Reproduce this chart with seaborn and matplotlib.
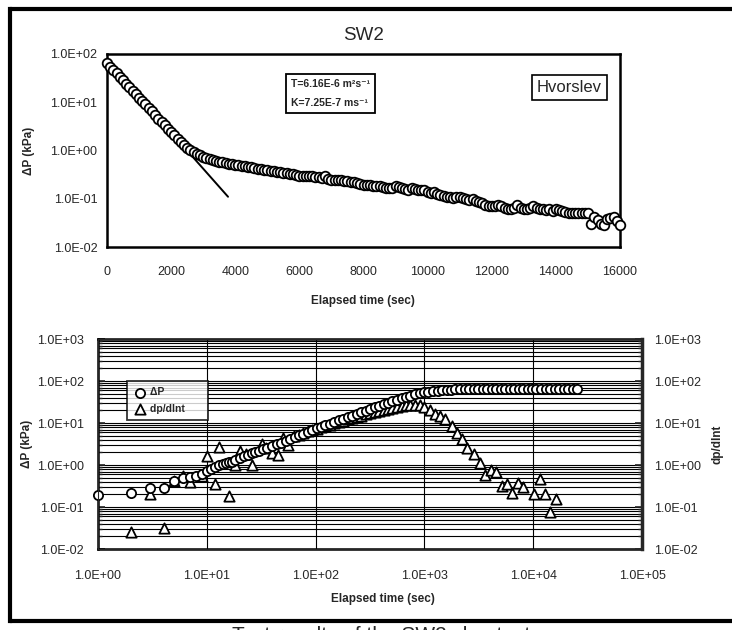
import numpy as np
import pandas as pd
import matplotlib
matplotlib.use("Agg")
import matplotlib.pyplot as plt
import seaborn as sns
from matplotlib.ticker import LogLocator, NullFormatter, FuncFormatter, MultipleLocator
from matplotlib.lines import Line2D

# ---------------- data ----------------
up_time = [0, 100, 200, 300, 400, 500, 600, 700, 800, 900, 1000,
           1100, 1200, 1300, 1400, 1500, 1600, 1700, 1800, 1900, 2000,
           2100, 2200, 2300, 2400, 2500, 2600, 2700, 2800, 2900, 3000,
           3100, 3200, 3300, 3400, 3500, 3600, 3700, 3800, 3900, 4000,
           4100, 4200, 4300, 4400, 4500, 4600, 4700, 4800, 4900, 5000,
           5100, 5200, 5300, 5400, 5500, 5600, 5700, 5800, 5900, 6000,
           6100, 6200, 6300, 6400, 6500, 6600, 6700, 6800, 6900, 7000,
           7100, 7200, 7300, 7400, 7500, 7600, 7700, 7800, 7900, 8000,
           8100, 8200, 8300, 8400, 8500, 8600, 8700, 8800, 8900, 9000,
           9100, 9200, 9300, 9400, 9500, 9600, 9700, 9800, 9900, 10000,
           10100, 10200, 10300, 10400, 10500, 10600, 10700, 10800, 10900, 11000,
           11100, 11200, 11300, 11400, 11500, 11600, 11700, 11800, 11900, 12000,
           12100, 12200, 12300, 12400, 12500, 12600, 12700, 12800, 12900, 13000,
           13100, 13200, 13300, 13400, 13500, 13600, 13700, 13800, 13900, 14000,
           14100, 14200, 14300, 14400, 14500, 14600, 14700, 14800, 14900, 15000,
           15100, 15200, 15300, 15400, 15500, 15600, 15700, 15800, 15900, 16000]
up_dp = [65, 55, 47, 40, 34, 28.5, 24, 20.5, 17.5, 14.8, 12.5,
         10.6, 9.0, 7.6, 6.5, 5.5, 4.6, 3.9, 3.3, 2.8, 2.4,
         2.05, 1.75, 1.5, 1.3, 1.15, 1.02, 0.93, 0.85, 0.79, 0.74,
         0.70, 0.67, 0.64, 0.61, 0.59, 0.57, 0.55, 0.53, 0.52, 0.50,
         0.49, 0.48, 0.47, 0.46, 0.45, 0.43, 0.42, 0.41, 0.40, 0.39,
         0.38, 0.37, 0.36, 0.35, 0.345, 0.34, 0.33, 0.32, 0.31, 0.30,
         0.30, 0.295, 0.29, 0.29, 0.28, 0.28, 0.27, 0.29, 0.26, 0.25,
         0.25, 0.245, 0.24, 0.235, 0.23, 0.225, 0.22, 0.21, 0.20, 0.195,
         0.19, 0.19, 0.185, 0.18, 0.18, 0.175, 0.17, 0.17, 0.165, 0.185,
         0.175, 0.165, 0.16, 0.155, 0.17, 0.16, 0.155, 0.15, 0.15, 0.14,
         0.13, 0.14, 0.125, 0.12, 0.115, 0.11, 0.11, 0.105, 0.11, 0.11,
         0.105, 0.10, 0.095, 0.10, 0.09, 0.085, 0.08, 0.075, 0.072, 0.07,
         0.07, 0.075, 0.07, 0.065, 0.06, 0.06, 0.065, 0.075, 0.065, 0.06,
         0.06, 0.065, 0.07, 0.065, 0.06, 0.06, 0.058, 0.06, 0.055, 0.06,
         0.058, 0.055, 0.052, 0.05, 0.05, 0.05, 0.05, 0.05, 0.05, 0.05,
         0.03, 0.042, 0.036, 0.03, 0.028, 0.038, 0.04, 0.042, 0.035, 0.028]
fit_time = [0, 3775]
fit_dp = [75, 0.11]

lo_time = [1, 2, 3, 4, 5, 6, 7, 8, 9, 10, 11, 12, 13, 14, 15, 16, 17, 18, 20, 22, 24, 26, 28, 30,
           33, 36, 40, 44, 48, 53, 58, 64, 70, 77, 85, 93, 102, 112, 123, 135, 148, 163, 179, 197,
           217, 238, 262, 288, 317, 348, 383, 421, 463, 509, 560, 616, 678, 745, 820, 902, 992,
           1090, 1200, 1320, 1450, 1600, 1760, 1930, 2130, 2340, 2570, 2830, 3110, 3420, 3770,
           4140, 4560, 5010, 5510, 6070, 6670, 7340, 8070, 8880, 9770, 10700, 11800, 13000,
           14300, 15700, 17300, 19000, 20900, 23000, 25300]
lo_dp = [0.19, 0.21, 0.29, 0.29, 0.42, 0.48, 0.52, 0.56, 0.62, 0.72, 0.8, 0.88, 1.0, 1.05, 1.1,
         1.15, 1.2, 1.3, 1.45, 1.6, 1.75, 1.9, 2.0, 2.2, 2.4, 2.6, 2.85, 3.1, 3.4, 3.8, 4.2, 4.6,
         5.1, 5.6, 6.2, 6.8, 7.4, 8.0, 8.8, 9.6, 10.5, 11.5, 12.5, 13.6, 15, 16.4, 18, 19.6, 21.5,
         23.5, 25.5, 28, 30.5, 33, 36, 39, 42, 45, 48, 51, 53.5, 55.5, 57.5, 59, 60.5, 61.5, 62.5,
         63, 63.5, 64, 64, 64, 64.5, 64.5, 64.5, 65, 65, 65, 65, 65, 65, 65, 65, 65, 65, 65, 65,
         65, 65, 65, 65, 65, 65, 65, 65]
der_time = [2, 3, 4, 5, 6, 7, 9, 10, 12, 13, 16, 18, 20, 23, 26, 32, 35, 40, 45, 50, 56,
            63, 70, 77, 85, 93, 102, 112, 123, 135, 148, 163, 179, 197, 217, 238, 262, 288, 317,
            348, 383, 421, 463, 509, 560, 616, 678, 745, 820, 902,
            1000, 1120, 1260, 1400, 1550, 1800, 2000, 2230, 2470, 2830, 3220, 3600, 4100, 4560,
            5150, 5740, 6400, 7200, 8100, 10100, 11500, 12900, 14400, 16200]
der_val = [0.026, 0.2, 0.032, 0.42, 0.55, 0.4, 0.55, 1.6, 0.35, 2.7, 0.18, 1.0, 2.2, 1.8, 1.0,
           3.2, 2.6, 1.9, 1.7, 4.5, 3.0,
           5.0, 5.3, 5.8, 6.3, 6.9, 7.3, 7.9, 8.5, 9.2, 9.9, 10.6, 11.4, 12.2, 13.1, 14, 15, 16,
           17, 18.2, 19.5, 20.8, 22, 23.3, 24.5, 25.5, 26.5, 27, 27, 26.5,
           24, 20, 16.6, 14.5, 12.6, 8.5, 5.9, 4.2, 2.6, 1.8, 1.1, 0.59, 0.76, 0.7,
           0.31, 0.36, 0.21, 0.38, 0.3, 0.2, 0.47, 0.2, 0.077, 0.155]

up_df = pd.DataFrame({"t": up_time, "dp": up_dp})
fit_df = pd.DataFrame({"t": fit_time, "dp": fit_dp})
lo_df = pd.DataFrame({"t": lo_time, "dp": lo_dp})
der_df = pd.DataFrame({"t": der_time, "v": der_val})

# ---------------- style ----------------
sns.set_style("white")
FAM = ['Liberation Sans', 'DejaVu Sans']
plt.rcParams['font.family'] = FAM
plt.rcParams['xtick.direction'] = 'in'
plt.rcParams['ytick.direction'] = 'in'

W, H = 732, 630
fig = plt.figure(figsize=(W / 100, H / 100), dpi=100)


def box(l, t, r, b):
    return [l / W, 1 - b / H, (r - l) / W, (b - t) / H]


sci = FuncFormatter(lambda v, p: f"{v:.1E}")
TICK_FS = 9

# ---------------- upper panel ----------------
ax1 = fig.add_axes(box(107, 54, 620, 247))
sns.lineplot(data=fit_df, x="t", y="dp", ax=ax1, color="black", lw=1.4, zorder=2)
sns.scatterplot(data=up_df, x="t", y="dp", ax=ax1, marker="o", s=48,
                facecolor="white", edgecolor="black", linewidth=1.3, zorder=3, clip_on=False)
ax1.set_yscale("log")
ax1.set_xlim(0, 16000)
ax1.set_ylim(0.01, 100)
ax1.xaxis.set_major_locator(MultipleLocator(2000))
ax1.xaxis.set_minor_locator(MultipleLocator(1000))
ax1.yaxis.set_major_locator(LogLocator(base=10, numticks=10))
ax1.yaxis.set_minor_locator(LogLocator(base=10, subs=np.arange(2, 10), numticks=20))
ax1.yaxis.set_minor_formatter(NullFormatter())
ax1.yaxis.set_major_formatter(sci)
ax1.tick_params(axis='x', which='major', length=5, width=1.2, pad=14, labelsize=TICK_FS)
ax1.tick_params(axis='x', which='minor', length=3, width=1.0)
ax1.tick_params(axis='y', which='major', length=5, width=1.2, pad=7, labelsize=TICK_FS)
ax1.tick_params(axis='y', which='minor', length=3, width=1.0)
for s in ax1.spines.values():
    s.set_linewidth(1.8)
    s.set_color("black")
ax1.set_xlabel("Elapsed time (sec)", fontsize=8.5, fontweight="bold")
ax1.xaxis.set_label_coords((363 - 107) / 513, -(295 - 247) / 193)
ax1.set_ylabel("ΔP (kPa)", fontsize=8.5, fontweight="bold")
ax1.yaxis.set_label_coords((35 - 107) / 513, 0.5)
ax1.set_title("SW2", fontsize=13.5, pad=10)
ax1.text((291 - 107) / 513, (247 - 93.5) / 193, "T=6.16E-6 m²s⁻¹\nK=7.25E-7 ms⁻¹",
         transform=ax1.transAxes, fontsize=7.5, fontweight="bold", va="center", ha="left",
         linespacing=2.1, family=FAM,
         bbox=dict(boxstyle="square,pad=0.45", fc="white", ec="black", lw=1.3))
ax1.text((602 - 107) / 513, (247 - 87.5) / 193, "Hvorslev", transform=ax1.transAxes,
         fontsize=12, va="center", ha="right",
         bbox=dict(boxstyle="square,pad=0.3", fc="white", ec="black", lw=1.2))

# ---------------- lower panel ----------------
ax2 = fig.add_axes(box(98, 339, 642, 549))
sns.scatterplot(data=lo_df, x="t", y="dp", ax=ax2, marker="o", s=44,
                facecolor="white", edgecolor="black", linewidth=1.3, zorder=4,
                label="ΔP", clip_on=False)
sns.scatterplot(data=der_df, x="t", y="v", ax=ax2, marker="^", s=55,
                facecolor="white", edgecolor="black", linewidth=1.3, zorder=3,
                label="dp/dlnt", clip_on=False)
ax2.set_xscale("log")
ax2.set_yscale("log")
ax2.set_xlim(1, 1e5)
ax2.set_ylim(0.01, 1000)
for axis in (ax2.xaxis, ax2.yaxis):
    axis.set_major_locator(LogLocator(base=10, numticks=10))
    axis.set_minor_locator(LogLocator(base=10, subs=np.arange(2, 10), numticks=40))
    axis.set_minor_formatter(NullFormatter())
    axis.set_major_formatter(sci)
ax2.grid(which="both", axis="y", color="black", lw=0.8)
ax2.grid(which="major", axis="x", color="black", lw=0.8)
ax2.tick_params(axis='x', which='major', length=5, width=1.2, pad=15, labelsize=TICK_FS)
ax2.tick_params(axis='x', which='minor', length=4, width=1.0)
ax2.tick_params(axis='y', which='major', length=5, width=1.2, pad=10, labelsize=TICK_FS)
ax2.tick_params(axis='y', which='minor', length=3, width=1.0)
for s in ax2.spines.values():
    s.set_linewidth(1.8)
    s.set_color("black")
ax2.set_xlabel("Elapsed time (sec)", fontsize=8.5, fontweight="bold")
ax2.xaxis.set_label_coords((383 - 98) / 544, -(593 - 549) / 210)
ax2.set_ylabel("ΔP (kPa)", fontsize=8.5, fontweight="bold")
ax2.yaxis.set_label_coords((33 - 98) / 544, 0.5)
handles, labels = ax2.get_legend_handles_labels()
leg = ax2.legend(handles, [labels[0] + "          ", labels[1] + "      "],
                 loc="upper left", bbox_to_anchor=((127 - 98) / 544, (549 - 381) / 210),
                 frameon=True, fancybox=False,
                 prop=dict(weight="bold", size=7.5, family=FAM), handletextpad=0.3,
                 borderpad=0.6, labelspacing=0.6, handlelength=1.3, borderaxespad=0)
leg.get_frame().set_edgecolor("black")
leg.get_frame().set_linewidth(1.3)

ax2r = ax2.twinx()
ax2r.set_yscale("log")
ax2r.set_ylim(0.01, 1000)
ax2r.yaxis.set_major_locator(LogLocator(base=10, numticks=10))
ax2r.yaxis.set_minor_locator(LogLocator(base=10, subs=np.arange(2, 10), numticks=40))
ax2r.yaxis.set_minor_formatter(NullFormatter())
ax2r.yaxis.set_major_formatter(sci)
ax2r.tick_params(axis='y', which='major', length=5, width=1.2, pad=9, labelsize=TICK_FS)
ax2r.tick_params(axis='y', which='minor', length=3, width=1.0)
ax2r.spines["right"].set_linewidth(2.5)
ax2r.set_ylabel("dp/dlnt", fontsize=8.5, fontweight="bold", rotation=90)
ax2r.yaxis.set_label_coords((711 - 98) / 544, 0.5)

# ---------------- frame and caption ----------------
lw = 3
fig.add_artist(Line2D([10 / W, 10 / W], [1 - 9 / H, 1 - 621 / H], color="black", lw=lw,
                      transform=fig.transFigure, solid_capstyle="projecting"))
fig.add_artist(Line2D([10 / W, 1.0], [1 - 9 / H, 1 - 9 / H], color="black", lw=lw,
                      transform=fig.transFigure))
fig.add_artist(Line2D([10 / W, 1.0], [1 - 621 / H, 1 - 621 / H], color="black", lw=lw,
                      transform=fig.transFigure))
fig.text(232 / W, 1 - 626 / H, "Test results of the SW2 slug test", fontsize=15,
         family=['Liberation Sans', 'DejaVu Sans'], ha="left", va="top")

fig.savefig("out.png", dpi=100)
